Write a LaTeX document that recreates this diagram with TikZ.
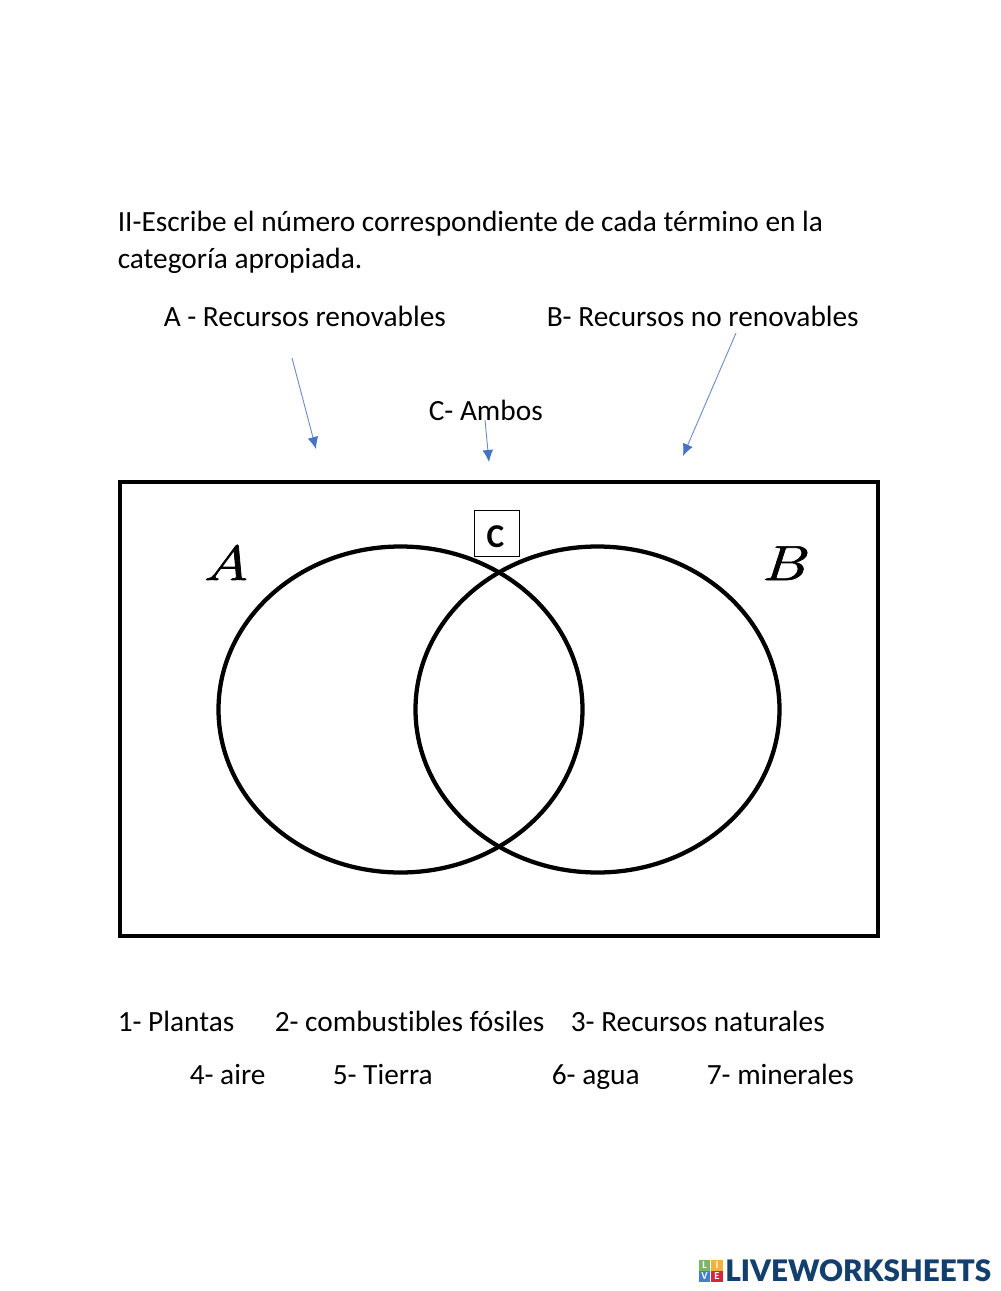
\documentclass[tikz,border=0pt]{standalone}
\usepackage{fontspec}
\setmainfont[Ligatures=NoCommon]{Carlito}
\newfontfamily\logofont[BoldFont={Lato Black}]{Lato}
\newfontfamily\setfont[ItalicFeatures={FakeBold=1.2}]{Latin Modern Roman}
\usetikzlibrary{arrows.meta}
\definecolor{arrowblue}{HTML}{4472C4}
\definecolor{shaftblue}{HTML}{6F8FC8}
\definecolor{logoblue}{HTML}{123F6D}
\definecolor{logogreen}{HTML}{7DB46C}
\definecolor{logoorange}{HTML}{F2B33D}
\definecolor{logoviolet}{HTML}{3F7FD0}
\definecolor{logored}{HTML}{D6263F}
\tikzset{
  x=0.75pt,y=-0.75pt,
  txt/.style={anchor=base west,inner sep=0pt,font=\fontsize{22}{26}\selectfont,text=black},
  outline/.style={draw=black,line width=3.2pt},
  pointer/.style={draw=shaftblue,line width=0.7pt,-{Latex[length=9pt,width=8pt,color=arrowblue]}},
  setname/.style={anchor=base,inner sep=0pt,xscale=1.3,font=\setfont\fontsize{37}{40}\selectfont\itshape},
  logosq/.style={minimum width=8.8pt,minimum height=8.2pt,inner sep=0pt,text=white,font=\fontsize{8}{8}\selectfont\bfseries,anchor=center}
}
\begin{document}
\begin{tikzpicture}
\useasboundingbox (0,0) rectangle (1000,1291);
\fill[white] (0,0) rectangle (1000,1291);
\node[txt] (t1) at (117.5,232) {II-Escribe el número correspondiente de cada término en la};
\node[txt] (t2) at (117.5,268) {categoría apropiada.};
\node[txt] (la) at (163.5,326) {A - Recursos renovables};
\node[txt] (lb) at (546.5,326) {B- Recursos no renovables};
\node[txt] (lc) at (428.5,420) {C- Ambos};
\coordinate (a1) at (292,358); \coordinate (a2) at (316,449);
\coordinate (b1) at (736,333); \coordinate (b2) at (683,456);
\coordinate (c1) at (485,420); \coordinate (c2) at (489,462);
\draw[pointer] (a1) -- (a2);
\draw[pointer] (b1) -- (b2);
\draw[pointer] (c1) -- (c2);
\draw[outline] (120,482) rectangle (878,936);
\draw[outline] (400.5,709.5) ellipse [x radius=182,y radius=163];
\draw[outline] (597.5,709.5) ellipse [x radius=182,y radius=163];
\node[draw=black,line width=0.75pt,fill=white,minimum width=33.5pt,minimum height=35pt,inner sep=0pt,anchor=center] (cbox) at (497,533.5) {};
\node[anchor=base,inner sep=0pt,font=\fontsize{25}{28}\selectfont\bfseries] (clabel) at (495.5,547) {C};
\node[setname] (na) at (226,580) {A};
\node[setname] (nb) at (783,580) {B};
\node[txt] (i1) at (117.5,1031) {1- Plantas};
\node[txt] (i2) at (274.5,1031) {2- combustibles fósiles};
\node[txt] (i3) at (570.5,1031) {3- Recursos naturales};
\node[txt] (i4) at (189.5,1084) {4- aire};
\node[txt] (i5) at (332.5,1084) {5- Tierra};
\node[txt] (i6) at (551.5,1084) {6- agua};
\node[txt] (i7) at (706.5,1084) {7- minerales};
\node[logosq,fill=logogreen] (sq1) at (704.5,1265.5) {L};
\node[logosq,fill=logoorange] (sq2) at (717,1265.5) {I};
\node[logosq,fill=logoviolet] (sq3) at (704.5,1276.5) {V};
\node[logosq,fill=logored] (sq4) at (717,1276.5) {E};
\node[anchor=base west,inner sep=0pt,text=logoblue,font=\logofont\fontsize{22.2}{24}\selectfont\bfseries] (logo) at (725,1281) {LIVEWORKSHEETS};
\end{tikzpicture}
\end{document}
